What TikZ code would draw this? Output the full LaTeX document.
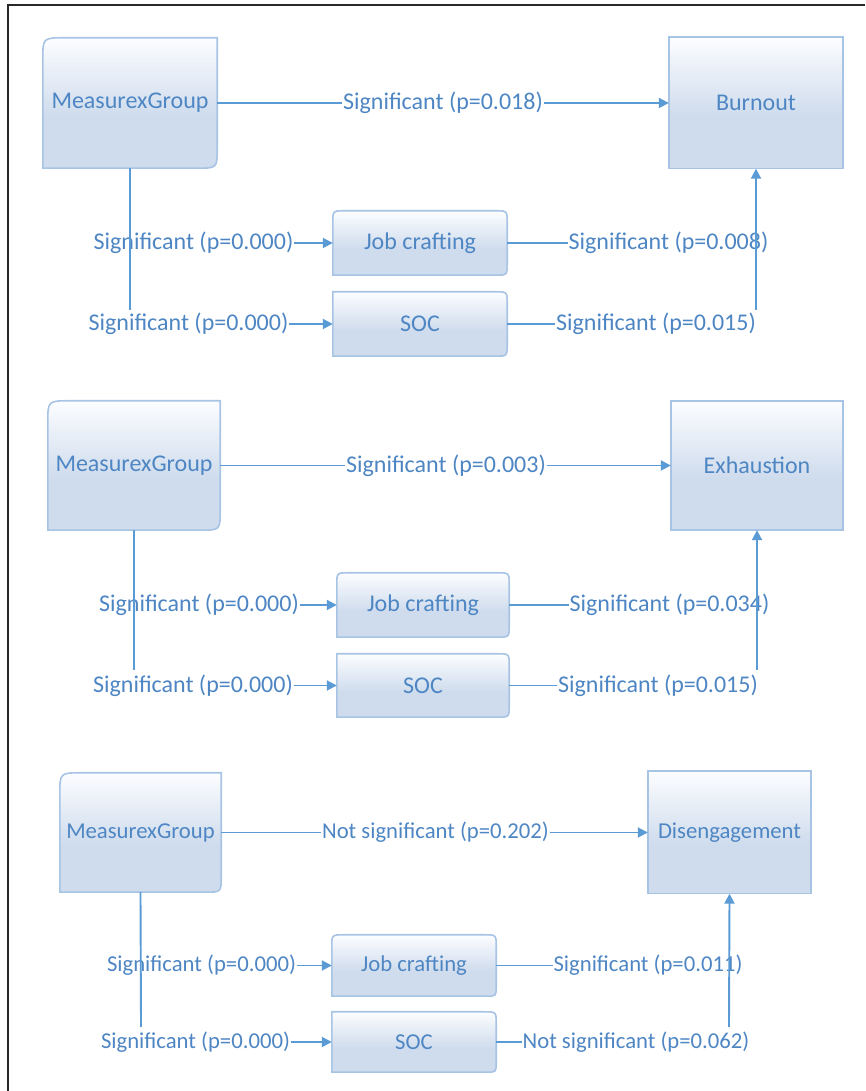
\documentclass[tikz,border=0pt]{standalone}
\usepackage{fontspec}
\setmainfont{Carlito}
\usetikzlibrary{arrows.meta,calc,backgrounds}

\definecolor{txtblue}{RGB}{78,134,196}
\definecolor{lineblue}{RGB}{91,155,213}
\definecolor{boxedge}{RGB}{168,196,228}
\definecolor{boxbot}{RGB}{207,220,237}
\definecolor{boxtop}{RGB}{252,253,255}
\definecolor{framegray}{RGB}{40,40,40}

% white at the top fading into light blue in the lower half
\pgfdeclareverticalshading{boxshade}{100bp}{color(0bp)=(boxbot); color(45bp)=(boxbot); color(75bp)=(boxtop); color(100bp)=(boxtop)}

\tikzset{
  boxtext/.style={text=txtblue, font=\fontsize{24}{28}\selectfont, inner sep=0pt, shape=rectangle},
  lbl/.style={text=txtblue, font=\fontsize{24}{28}\selectfont, inner xsep=0.5pt, inner ysep=2pt},
  smalltext/.style={font=\fontsize{22.7}{27}\selectfont},
  conn/.style={draw=lineblue, line width=1.9pt},
  arr/.style={conn, -{Triangle[length=10pt,width=10pt]}},
  boxfill/.style={shading=boxshade, draw=boxedge, line width=1.6pt},
}

% box outline with its own corner radii: node, top-left, top-right, bottom-right, bottom-left
\newcommand{\sketchbox}[5]{%
  \path[boxfill] ($(#1.north west)+(0,-#2)$) .. controls (#1.north west) .. ($(#1.north west)+(#2,0)$)
    -- ($(#1.north east)+(-#3,0)$) .. controls (#1.north east) .. ($(#1.north east)+(0,-#3)$)
    -- ($(#1.south east)+(0,#4)$) .. controls (#1.south east) .. ($(#1.south east)+(-#4,0)$)
    -- ($(#1.south west)+(#5,0)$) .. controls (#1.south west) .. ($(#1.south west)+(0,#5)$)
    -- cycle;}

\begin{document}
\begin{tikzpicture}[x=1pt,y=1pt]
\useasboundingbox (0,0) rectangle (865,1091);

% ---------- Burnout ----------
\node[boxtext, minimum width=174pt, minimum height=130pt] (m1) at (130,988) {MeasurexGroup};
\node[boxtext, minimum width=174pt, minimum height=131pt] (b1) at (756,988) {Burnout};
\node[boxtext, minimum width=174pt, minimum height=64pt] (j1) at (420,848) {Job crafting};
\node[boxtext, minimum width=174pt, minimum height=64pt] (s1) at (420,767) {SOC};
\node[lbl] (t1) at (443,988) {Significant (p=0.018)};
\node[lbl] (a1) at (193.5,848) {Significant (p=0.000)};
\node[lbl] (c1) at (188.5,767) {Significant (p=0.000)};
\node[lbl] (d1) at (668.5,848) {Significant (p=0.008)};
\node[lbl] (e1) at (656,767) {Significant (p=0.015)};
\coordinate (v1) at (130,781);
\coordinate (w1) at (756,781);

% ---------- Exhaustion ----------
\node[boxtext, minimum width=172pt, minimum height=129pt] (m2) at (134,625.5) {MeasurexGroup};
\node[boxtext, minimum width=172pt, minimum height=129pt] (x2) at (757,625.5) {Exhaustion};
\node[boxtext, minimum width=172pt, minimum height=64pt] (j2) at (423,486) {Job crafting};
\node[boxtext, minimum width=172pt, minimum height=63pt] (s2) at (423,405.5) {SOC};
\node[lbl] (t2) at (446,625.5) {Significant (p=0.003)};
\node[lbl] (a2) at (199,486) {Significant (p=0.000)};
\node[lbl] (c2) at (193,405.5) {Significant (p=0.000)};
\node[lbl] (d2) at (669.5,486) {Significant (p=0.034)};
\node[lbl] (e2) at (658,405.5) {Significant (p=0.015)};
\coordinate (v2) at (134,421);
\coordinate (w2) at (757,421);

% ---------- Disengagement ----------
\node[boxtext, smalltext, minimum width=161pt, minimum height=119pt] (m3) at (140.5,258.5) {MeasurexGroup};
\node[boxtext, smalltext, minimum width=163pt, minimum height=122pt] (g3) at (729.5,258.5) {Disengagement};
\node[boxtext, smalltext, minimum width=164pt, minimum height=61pt] (j3) at (414,125.5) {Job crafting};
\node[boxtext, smalltext, minimum width=164pt, minimum height=60pt] (s3) at (414,49) {SOC};
\node[lbl, smalltext] (t3) at (435.5,258.5) {Not significant (p=0.202)};
\node[lbl, smalltext] (a3) at (201.5,125.5) {Significant (p=0.000)};
\node[lbl, smalltext] (c3) at (195.5,49) {Significant (p=0.000)};
\node[lbl, smalltext] (d3) at (648,125.5) {Significant (p=0.011)};
\node[lbl, smalltext] (e3) at (636,49) {Not significant (p=0.062)};
\coordinate (v3) at (141,64);
\coordinate (w3) at (729,64);

\begin{pgfonlayer}{background}
  \fill[white] (0,0) rectangle (865,1091);
  \draw[framegray, line width=1.6pt] (8,0) -- (8,1086) -- (865,1086);
  \sketchbox{m1}{22}{0}{20}{0}
  \sketchbox{b1}{0}{0}{0}{0}
  \sketchbox{j1}{12}{12}{12}{0}
  \sketchbox{s1}{0}{12}{12}{0}
  \sketchbox{m2}{22}{0}{20}{0}
  \sketchbox{x2}{0}{0}{0}{0}
  \sketchbox{j2}{12}{12}{12}{0}
  \sketchbox{s2}{0}{12}{12}{0}
  \sketchbox{m3}{22}{0}{16}{0}
  \sketchbox{g3}{0}{0}{0}{0}
  \sketchbox{j3}{12}{12}{10}{0}
  \sketchbox{s3}{0}{12}{10}{0}
\end{pgfonlayer}

% connectors
\foreach \m/\o/\t/\j/\s/\a/\c/\d/\e/\v/\w in
  {m1/b1/t1/j1/s1/a1/c1/d1/e1/v1/w1,
   m2/x2/t2/j2/s2/a2/c2/d2/e2/v2/w2,
   m3/g3/t3/j3/s3/a3/c3/d3/e3/v3/w3}{
  \draw[conn] (\m.east) -- (\t.west);
  \draw[arr] (\t.east) -- (\o.west);
  \draw[conn] (\m.south) -- (\v);
  \draw[arr] (\a.east) -- (\j.west);
  \draw[arr] (\c.east) -- (\s.west);
  \draw[conn] (\j.east) -- (\d.west);
  \draw[conn] (\s.east) -- (\e.west);
  \draw[arr] (\w) -- (\o.south);
}
\end{tikzpicture}
\end{document}
